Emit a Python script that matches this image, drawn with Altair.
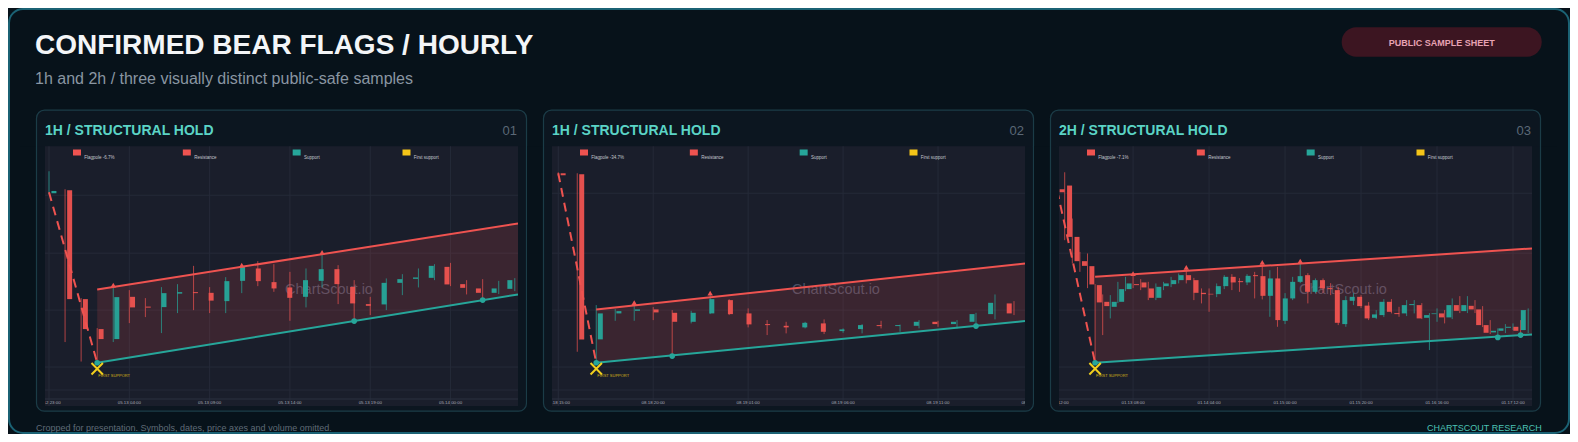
import altair as alt
import pandas as pd

# ================= values =================
TITLE = "CONFIRMED BEAR FLAGS / HOURLY"
SUBTITLE = "1h and 2h / three visually distinct public-safe samples"
BADGE = "PUBLIC SAMPLE SHEET"
FOOT_LEFT = "Cropped for presentation. Symbols, dates, price axes and volume omitted."
FOOT_RIGHT = "CHARTSCOUT RESEARCH"
WATERMARK = "ChartScout.io"
FIRST_LABEL = "FIRST SUPPORT"
LEGEND_REST = ["Resistance", "Support", "First support"]

PANEL_TITLES = ["1H / STRUCTURAL HOLD", "1H / STRUCTURAL HOLD", "2H / STRUCTURAL HOLD"]
PANEL_NUMBERS = ["01", "02", "03"]
FLAGPOLE_LABELS = ["Flagpole -6.7%", "Flagpole -34.7%", "Flagpole -7.1%"]

# ---- panel 1 (1h) ----
P1_OPEN = [213, 216, 107, 77, 67, 109.3, 99.5, 99, 112.5, 114, 113.3, 105, 125.3, 137.7, 124,
           118.7, 109.3, 125.3, 137, 119.3, 102, 101.7, 123.3, 127.3, 128.3, 139.3, 122, 117.7, 113.3, 117.3]
P1_HIGH = [235, 217, 108, 78, 120, 116, 108, 119, 122, 140.3, 119, 129, 140, 145, 142,
           134.3, 137.7, 152.7, 141, 126, 109.3, 127.7, 132, 137.7, 142, 143.3, 126, 127, 125.3, 128]
P1_LOW = [212, 64, 44.5, 43.3, 64, 83, 89, 73, 93, 96, 93, 93, 113, 120, 114.3,
          85.3, 98.7, 118.7, 102, 85, 91, 96, 111, 118.7, 126, 120, 111.7, 106, 112, 115]
P1_CLOSE = [215.3, 107, 77, 67, 109, 98.7, 98.5, 113, 114, 113, 105.5, 125, 139.3, 125, 117.7,
            108.3, 126, 137, 122, 102.7, 100.3, 123.3, 127, 128.7, 140.3, 121.7, 118.3, 113.3, 117.7, 126]
P1_TICK_IDX = [0, 5, 10, 15, 20, 25]
P1_TICKS = ["05.12 23:00", "05.13 04:00", "05.13 09:00", "05.13 14:00", "05.13 19:00", "05.14 00:00"]
P1_XDOM = [-0.25, 29.2]
P1_RES_IDX = [3, 29.2]
P1_RES = [116.7, 182.7]
P1_SUP = [43.3, 111.7]
P1_POLE_IDX = [0, 3]
P1_POLE = [214, 43.3]
P1_TOUCH_HIGH = [4, 12, 17]
P1_TOUCH_LOW = [3, 19, 27]
P1_FIRST = 3
P1_GRID = [211, 153, 96, 39, 16]

# ---- panel 2 (1h) ----
P2_OPEN = [233, 232, 66.7, 92.7, 95.3, 96.7, 93.3, 84.3, 92.7, 106, 92.7, 82, 80.3, 78.7, 82.7,
           75, 77, 81, 80, 80.3, 84.3, 82, 84.3, 92, 102.7]
P2_HIGH = [234, 233, 101, 97, 102.5, 99, 96, 95.3, 112, 107, 97.7, 86, 84.3, 84.3, 86.7,
           77.7, 82, 85.3, 81.5, 86, 85.3, 86, 93.3, 111.7, 105]
P2_LOW = [230, 54.3, 43.3, 85.3, 85.3, 86, 50, 82.7, 92, 91, 78.7, 71, 72.7, 77.7, 72,
          73.3, 72.7, 77.7, 74.3, 77.7, 79.3, 77.7, 80, 86.7, 91]
P2_CLOSE = [231, 66.7, 92.7, 95, 96.7, 93.7, 84.3, 93.3, 107, 92, 81.7, 81, 78.7, 83.3, 74.3,
            76.7, 81, 80, 81, 84.3, 82, 84.3, 92, 103.3, 92.7]
P2_TICK_IDX = [0, 5, 10, 15, 20, 25]
P2_TICKS = ["08.18 15:00", "08.18 20:00", "08.19 01:00", "08.19 06:00", "08.19 11:00", "08.19 16:00"]
P2_XDOM = [-0.33, 24.58]
P2_RES_IDX = [2, 24.58]
P2_RES = [96.7, 142.7]
P2_SUP = [43.3, 85]
P2_POLE_IDX = [0, 2]
P2_POLE = [233, 43.3]
P2_TOUCH_HIGH = [4, 8]
P2_TOUCH_LOW = [2, 6, 22]
P2_FIRST = 2
P2_GRID = [213, 153, 96, 39, 16]

# ---- panel 3 (2h) ----
P3_OPEN = [217, 220.7, 169.3, 145, 140, 121, 104.3, 99.3, 104.3, 117,
           122, 123.7, 117.7, 108.3, 120, 122, 126, 131, 126, 113.3,
           112.3, 112, 120, 129.3, 125, 123.7, 131, 130, 110.3, 127.7,
           85.3, 107.7, 124.3, 131, 114.3, 126, 118, 116, 82, 105.3,
           109.3, 100.5, 88.3, 91, 104.3, 93, 92.7, 101, 101, 88.3,
           92, 92.7, 88.7, 101, 95, 100.3, 96.7, 81, 73.7, 75.3,
           78.3, 79.3, 76]
P3_HIGH = [220, 234, 187.7, 154.3, 152.7, 122, 111.7, 111, 124.3, 129.3,
           131.5, 127, 124.3, 122.7, 124.3, 129.3, 132.7, 137.7, 128.3, 117.7,
           117.7, 122.7, 131, 132, 128, 132, 134.3, 142.7, 136, 139.3,
           113, 129.3, 144, 133, 127.7, 127.7, 123, 119.3, 110, 113,
           111, 104, 96, 107, 107, 99.3, 106, 106, 103, 93,
           97.7, 96, 107.7, 110, 110, 106, 100, 86, 77.7, 82,
           82.7, 86, 97.7]
P3_LOW = [212, 166, 142.7, 134.3, 118, 43.3, 71, 87.7, 103, 115,
          118, 116, 106, 106, 116, 119, 122.7, 122.7, 106, 102.7,
          94.3, 109, 117, 116, 114.3, 121, 107.7, 106.7, 89.3, 79.3,
          82, 106, 123, 102.7, 113, 113, 111, 81, 79.3, 101,
          98, 86, 87, 89, 92.7, 89.3, 90, 92.7, 87, 56,
          84.3, 82.7, 87, 93, 93, 93, 79, 72, 68.7, 73,
          76, 71, 73]
P3_CLOSE = [214, 169.3, 145, 140.3, 121.7, 103.7, 100, 104.3, 117, 122.7,
            121, 118.7, 108.3, 119.3, 122.7, 126, 131, 126, 113.3, 112,
            111.7, 120, 129.3, 123.7, 124, 130.3, 130, 110.3, 127.7, 86,
            107.7, 124.3, 130, 114.3, 126, 117.7, 117, 83.3, 106, 109.3,
            100, 87.7, 91.7, 104.3, 94.3, 92, 101, 102, 87.7, 91,
            92.7, 88.7, 101, 95.3, 101, 96.7, 81, 73.3, 75.3, 77.7,
            79.3, 75.3, 96]
P3_TICK_IDX = [0, 10, 20, 30, 40, 50, 60]
P3_TICKS = ["01.12 12:00", "01.13 08:00", "01.14 04:00", "01.15 00:00", "01.15 20:00", "01.16 16:00", "01.17 12:00"]
P3_XDOM = [0.25, 62.5]
P3_RES_IDX = [5, 62.5]
P3_RES = [129.3, 157.7]
P3_SUP = [43.3, 71.7]
P3_POLE_IDX = [0, 5]
P3_POLE = [216, 43.3]
P3_TOUCH_HIGH = [10, 17, 27, 32]
P3_TOUCH_LOW = [5, 58, 61]
P3_FIRST = 5
P3_GRID = [213, 153, 96, 39, 16]

Y_DOMAIN = [0, 260]

# ================= style / layout =================
RED = "#ef5350"
TEAL = "#26a69a"
YELLOW = "#f2cf1d"
PAGE_BG = "#07121a"
CARD_BG = "#0c1620"
CARD_STROKE = "#1b3c47"
PLOT_BG = "#1a1e2b"
GRID_C = "#252a38"
FONT = "Liberation Sans"

W, H = 1562, 426
CARD_X0 = [28, 535, 1042]
CARD_W = 491
CARD_Y0, CARD_Y1 = 101.7, 403.7
PLOT_Y0, PLOT_Y1 = 138.3, 398

ONE = pd.DataFrame({"k": [0]})


def deco_rect(x0, x1, y0, y1, **kw):
    return alt.Chart(ONE).mark_rect(**kw).encode(
        x=alt.value(x0), x2=alt.value(x1), y=alt.value(y0), y2=alt.value(y1))


def deco_text(txt, x, y, **kw):
    return alt.Chart(ONE).mark_text(text=txt, font=FONT, **kw).encode(
        x=alt.value(x), y=alt.value(y))


def panel(p, d):
    cx0 = CARD_X0[p]
    cx1 = cx0 + CARD_W
    x0, x1 = cx0 + 9, cx0 + 482
    xs = alt.Scale(domain=d["xdom"], range=[x0, x1], nice=False, zero=False)
    ys = alt.Scale(domain=Y_DOMAIN, range=[PLOT_Y1, PLOT_Y0], nice=False, zero=False)

    def X(f):
        return alt.X(f, type="quantitative", scale=xs, axis=None)

    def Y(f):
        return alt.Y(f, type="quantitative", scale=ys, axis=None)

    n = len(d["open"])
    cdf = pd.DataFrame({"i": list(range(n)), "o": d["open"], "h": d["high"],
                        "l": d["low"], "c": d["close"]})
    cdf["dir"] = ["up" if c >= o else "down" for o, c in zip(d["open"], d["close"])]
    col = alt.Color("dir:N", scale=alt.Scale(domain=["up", "down"], range=[TEAL, RED]), legend=None)

    layers = []
    layers.append(deco_rect(cx0, cx1, CARD_Y0, CARD_Y1, fill=CARD_BG, cornerRadius=8))
    layers.append(deco_rect(x0, x1, PLOT_Y0, PLOT_Y1, fill=PLOT_BG))
    # grid
    layers.append(alt.Chart(pd.DataFrame({"v": d["grid"]})).mark_rule(color=GRID_C, strokeWidth=1).encode(
        y=Y("v"), x=alt.value(x0), x2=alt.value(x1)))
    layers.append(alt.Chart(pd.DataFrame({"i": d["tick_idx"]})).mark_rule(color=GRID_C, strokeWidth=1).encode(
        x=X("i"), y=alt.value(PLOT_Y0), y2=alt.value(PLOT_Y1)))
    layers.append(alt.Chart(ONE).mark_rule(color="#2a3040", strokeWidth=1).encode(
        x=alt.value(x0), x2=alt.value(x1), y=alt.value(391)))
    # watermark
    layers.append(deco_text(WATERMARK, x0 + 284, 282, fontSize=14.5, color="#4c5165",
                            align="center", baseline="middle"))
    # flag channel fill
    flag = pd.DataFrame({"i": d["res_idx"], "r": d["res"], "s": d["sup"]})
    layers.append(alt.Chart(flag).mark_area(color=RED, opacity=0.15, orient="vertical").encode(
        x=X("i"), y=Y("r"), y2="s"))
    # candles
    layers.append(alt.Chart(cdf).mark_rule(strokeWidth=1, opacity=0.7).encode(
        x=X("i"), y=Y("l"), y2="h", color=col))
    layers.append(alt.Chart(cdf).mark_bar(size=5, opacity=0.95).encode(
        x=X("i"), y=Y("o"), y2="c", color=col))
    # lines
    layers.append(alt.Chart(flag).mark_line(color=RED, strokeWidth=2).encode(x=X("i"), y=Y("r")))
    layers.append(alt.Chart(flag).mark_line(color=TEAL, strokeWidth=2).encode(x=X("i"), y=Y("s")))
    pole = pd.DataFrame({"i": d["pole_idx"], "v": d["pole"]})
    layers.append(alt.Chart(pole).mark_line(color=RED, strokeWidth=2, strokeDash=[9, 6]).encode(
        x=X("i"), y=Y("v")))
    # touch markers
    th = pd.DataFrame({"i": d["touch_high"], "v": [d["high"][k] for k in d["touch_high"]]})
    layers.append(alt.Chart(th).mark_point(shape="triangle-up", filled=True, size=30, color=RED,
                                           opacity=1, yOffset=-1).encode(x=X("i"), y=Y("v")))
    tl = pd.DataFrame({"i": d["touch_low"], "v": [d["low"][k] for k in d["touch_low"]]})
    layers.append(alt.Chart(tl).mark_circle(size=32, color=TEAL, opacity=1).encode(x=X("i"), y=Y("v")))
    fs = pd.DataFrame({"i": [d["first"]], "v": [d["low"][d["first"]]]})
    layers.append(alt.Chart(fs).mark_point(shape="M-1,-1L1,1M-1,1L1,-1", filled=False, strokeWidth=2,
                                           size=130, color=YELLOW, opacity=1, yOffset=6).encode(
        x=X("i"), y=Y("v")))
    layers.append(alt.Chart(fs).mark_text(text=FIRST_LABEL, font=FONT, fontSize=4, color="#d6b318",
                                          align="left", baseline="middle", dx=1, dy=13.5).encode(
        x=X("i"), y=Y("v")))
    # time labels
    tk = pd.DataFrame({"i": d["tick_idx"], "t": d["ticks"]})
    layers.append(alt.Chart(tk).mark_text(font=FONT, fontSize=4.4, color="#a7abb6",
                                          baseline="middle").encode(
        x=X("i"), y=alt.value(395.3), text="t:N"))
    # masks (clip to plot area)
    layers.append(deco_rect(cx0 - 16, cx0, PLOT_Y0, PLOT_Y1, fill=PAGE_BG))
    layers.append(deco_rect(cx0, x0, PLOT_Y0, PLOT_Y1, fill=CARD_BG))
    layers.append(deco_rect(x1, cx1, PLOT_Y0, PLOT_Y1, fill=CARD_BG))
    layers.append(deco_rect(cx1, cx1 + 16, PLOT_Y0, PLOT_Y1, fill=PAGE_BG))
    layers.append(deco_rect(cx0 + 0.5, cx1 - 0.5, CARD_Y0 + 0.5, CARD_Y1 - 0.5, fill="transparent",
                            stroke=CARD_STROKE, strokeWidth=1.2, cornerRadius=8))
    # legend
    items = [d["flag_label"]] + LEGEND_REST
    lg = pd.DataFrame({"slot": [0, 1, 2, 3], "item": items})
    lxs = alt.Scale(domain=[0, 3], range=[x0 + 32, x0 + 361.5], nice=False, zero=False)
    lcol = alt.Color("item:N", scale=alt.Scale(domain=items, range=[RED, RED, TEAL, "#f5c518"]), legend=None)
    layers.append(alt.Chart(lg).mark_point(shape="M-1,-0.75L1,-0.75L1,0.75L-1,0.75Z", filled=True,
                                           size=64, opacity=1).encode(
        x=alt.X("slot:Q", scale=lxs, axis=None), y=alt.value(144.5), color=lcol))
    layers.append(alt.Chart(lg).mark_text(font=FONT, fontSize=4.5, color="#c4c7ce", align="left",
                                          baseline="middle", dx=7.3).encode(
        x=alt.X("slot:Q", scale=lxs, axis=None), y=alt.value(150), text="item:N"))
    # titles
    layers.append(deco_text(d["title"], x0, 126.5, fontSize=14, fontWeight="bold", color="#5bd4c6",
                            align="left", baseline="alphabetic"))
    layers.append(deco_text(d["num"], x1 - 1, 126.5, fontSize=13, color="#5b6876",
                            align="right", baseline="alphabetic"))
    return layers


panels = [
    dict(open=P1_OPEN, high=P1_HIGH, low=P1_LOW, close=P1_CLOSE, tick_idx=P1_TICK_IDX, ticks=P1_TICKS,
         xdom=P1_XDOM, res_idx=P1_RES_IDX, res=P1_RES, sup=P1_SUP, pole_idx=P1_POLE_IDX, pole=P1_POLE,
         touch_high=P1_TOUCH_HIGH, touch_low=P1_TOUCH_LOW, first=P1_FIRST, grid=P1_GRID,
         title=PANEL_TITLES[0], num=PANEL_NUMBERS[0], flag_label=FLAGPOLE_LABELS[0]),
    dict(open=P2_OPEN, high=P2_HIGH, low=P2_LOW, close=P2_CLOSE, tick_idx=P2_TICK_IDX, ticks=P2_TICKS,
         xdom=P2_XDOM, res_idx=P2_RES_IDX, res=P2_RES, sup=P2_SUP, pole_idx=P2_POLE_IDX, pole=P2_POLE,
         touch_high=P2_TOUCH_HIGH, touch_low=P2_TOUCH_LOW, first=P2_FIRST, grid=P2_GRID,
         title=PANEL_TITLES[1], num=PANEL_NUMBERS[1], flag_label=FLAGPOLE_LABELS[1]),
    dict(open=P3_OPEN, high=P3_HIGH, low=P3_LOW, close=P3_CLOSE, tick_idx=P3_TICK_IDX, ticks=P3_TICKS,
         xdom=P3_XDOM, res_idx=P3_RES_IDX, res=P3_RES, sup=P3_SUP, pole_idx=P3_POLE_IDX, pole=P3_POLE,
         touch_high=P3_TOUCH_HIGH, touch_low=P3_TOUCH_LOW, first=P3_FIRST, grid=P3_GRID,
         title=PANEL_TITLES[2], num=PANEL_NUMBERS[2], flag_label=FLAGPOLE_LABELS[2]),
]

layers = []
# outer frame
layers.append(deco_rect(1, W - 1, 1, H - 1, fill="transparent", stroke="#1b6274", strokeWidth=2,
                        cornerRadius=14))
# header
layers.append(deco_text(TITLE, 27, 46.3, fontSize=28, fontWeight="bold", color="#f3f5f7",
                        align="left", baseline="alphabetic"))
layers.append(deco_text(SUBTITLE, 27, 76, fontSize=16, color="#8a96a2",
                        align="left", baseline="alphabetic"))
layers.append(deco_rect(1333.7, 1533.7, 19.3, 48.7, fill="#3c1521", cornerRadius=14.5))
layers.append(deco_text(BADGE, 1433.7, 34.8, fontSize=9, fontWeight="bold", color="#e8a2b3",
                        align="center", baseline="middle"))
for p, d in enumerate(panels):
    layers += panel(p, d)
# footer
layers.append(deco_text(FOOT_LEFT, 28, 420.3, fontSize=9, color="#5f6b77", align="left", baseline="middle"))
layers.append(deco_text(FOOT_RIGHT, 1533.7, 420.3, fontSize=9, color="#4cc3b5", align="right",
                        baseline="middle"))

chart = alt.layer(*layers).resolve_scale(
    x="independent", y="independent", color="independent"
).properties(
    width=W, height=H, padding=0, background=PAGE_BG,
    autosize=alt.AutoSizeParams(type="none"),
).configure_view(strokeWidth=0)

chart.save("out.html", embed_options={"renderer": "svg", "actions": False})
